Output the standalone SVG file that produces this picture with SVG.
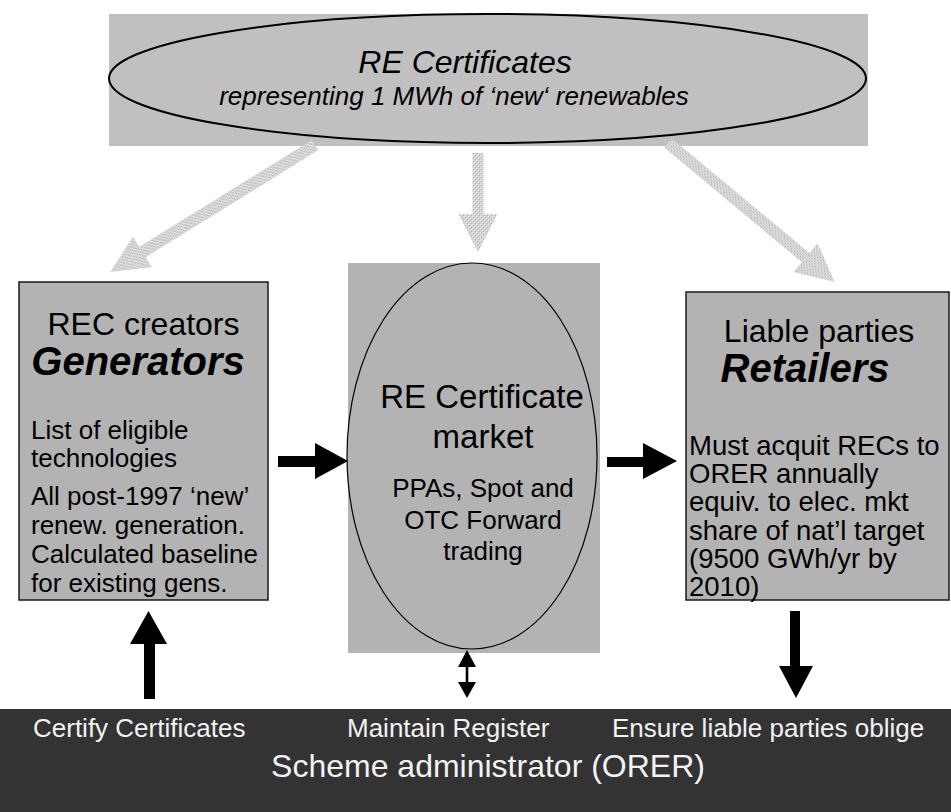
<svg xmlns="http://www.w3.org/2000/svg" width="951" height="812" viewBox="0 0 951 812">
  <defs>
    <pattern id="dots" width="4" height="4" patternUnits="userSpaceOnUse">
      <rect width="4" height="4" fill="#d6d6d6"/>
      <rect x="0" y="0" width="1" height="1" fill="#a8a8a8"/>
      <rect x="2" y="2" width="1" height="1" fill="#a8a8a8"/>
      <rect x="1" y="3" width="1" height="1" fill="#ececec"/>
      <rect x="3" y="1" width="1" height="1" fill="#ececec"/>
    </pattern>
  </defs>
  <style>
    text { font-family: "Liberation Sans", Arial, sans-serif; fill: #000; }
    .box { fill: #b3b3b3; stroke: #1a1a1a; stroke-width: 1.5; }
    .title { font-size: 32px; text-anchor: middle; }
    .strong { font-size: 40px; font-weight: bold; font-style: italic; text-anchor: middle; }
    .body { font-size: 26px; }
    .body-r { font-size: 27.5px; }
    .mid { font-size: 26px; text-anchor: middle; }
    .mid-big { font-size: 33px; text-anchor: middle; }
    .foot { font-size: 26px; fill: #f2f2f2; }
    .foot-big { font-size: 32px; fill: #f2f2f2; text-anchor: middle; }
    .gray-arrow { fill: url(#dots); }
    .solid-arrow { fill: #000; }
  </style>

  <rect width="951" height="812" fill="#fff"/>

  <!-- certificate banner -->
  <g id="certificates">
    <rect x="109" y="14" width="759" height="132" fill="#c0c0c0"/>
    <ellipse cx="487.5" cy="78.5" rx="378.5" ry="64.5" fill="#c0c0c0" stroke="#000" stroke-width="2"/>
    <text x="465" y="73" style="font-size:32px;font-style:italic" text-anchor="middle">RE Certificates</text>
    <text x="454" y="105" style="font-size:26px;font-style:italic" text-anchor="middle">representing 1 MWh of ‘new‘ renewables</text>
  </g>

  <!-- generators -->
  <g id="generators">
    <rect class="box" x="19" y="282" width="249" height="318"/>
    <text class="title" x="143.5" y="335">REC creators</text>
    <text class="strong" x="138" y="375">Generators</text>
    <text class="body" x="31" y="439">List of eligible</text>
    <text class="body" x="31" y="467">technologies</text>
    <text class="body" x="31" y="505">All post-1997 ‘new’</text>
    <text class="body" x="31" y="534">renew. generation.</text>
    <text class="body" x="31" y="563">Calculated baseline</text>
    <text class="body" x="31" y="592">for existing gens.</text>
  </g>

  <!-- certificate market -->
  <g id="market">
    <rect x="348" y="263" width="252" height="390" fill="#b3b3b3"/>
    <ellipse cx="472" cy="456" rx="125" ry="193" fill="#b3b3b3" stroke="#000" stroke-width="1.2"/>
    <text class="mid-big" x="482" y="408">RE Certificate</text>
    <text class="mid-big" x="483" y="448">market</text>
    <text class="mid" x="483" y="497">PPAs, Spot and</text>
    <text class="mid" x="483" y="529">OTC Forward</text>
    <text class="mid" x="483" y="560">trading</text>
  </g>

  <!-- retailers -->
  <g id="retailers">
    <rect class="box" x="686" y="292" width="263" height="308"/>
    <text class="title" x="819" y="342">Liable parties</text>
    <text class="strong" x="805" y="382">Retailers</text>
    <text class="body-r" x="689" y="455">Must acquit RECs to</text>
    <text class="body-r" x="689" y="483">ORER annually</text>
    <text class="body-r" x="689" y="511">equiv. to elec. mkt</text>
    <text class="body-r" x="689" y="540">share of nat’l target</text>
    <text class="body-r" x="689" y="568">(9500 GWh/yr by</text>
    <text class="body-r" x="689" y="596">2010)</text>
  </g>

  <!-- scheme administrator -->
  <g id="administrator">
    <rect x="0" y="709" width="951" height="103" fill="#333333"/>
    <text class="foot" x="33" y="737">Certify Certificates</text>
    <text class="foot" x="347" y="737">Maintain Register</text>
    <text class="foot" x="612" y="737">Ensure liable parties oblige</text>
    <text class="foot-big" x="488" y="777">Scheme administrator (ORER)</text>
  </g>

  <!-- connectors -->
  <g id="connectors">
    <!-- certificates flow out to the three parties -->
    <path class="gray-arrow" transform="translate(315 145) rotate(148.2)" d="M0,-6 L203,-6 L203,-18 L241,0 L203,18 L203,6 L0,6 Z"/>
    <path class="gray-arrow" transform="translate(478 153) rotate(90)" d="M0,-5.5 L61,-5.5 L61,-19.5 L99,0 L61,19.5 L61,5.5 L0,5.5 Z"/>
    <path class="gray-arrow" transform="translate(668 143) rotate(39.8)" d="M0,-6 L179,-6 L179,-18.8 L217,0 L179,18.8 L179,6 L0,6 Z"/>

    <!-- trade flow -->
    <path class="solid-arrow" d="M278,456 L315,456 L315,443 L348,461 L315,479 L315,467 L278,467 Z"/>
    <path class="solid-arrow" d="M607,457 L643,457 L643,443 L677,461 L643,479 L643,467 L607,467 Z"/>

    <!-- administration links -->
    <path class="solid-arrow" d="M144,699 L144,644 L130,644 L148.5,611 L167,644 L155,644 L155,699 Z"/>
    <path class="solid-arrow" d="M790,611 L800,611 L800,666 L813,666 L796,698 L779,666 L790,666 Z"/>
    <path class="solid-arrow" d="M467,650 L476,667 L468.3,667 L468.3,682 L476,682 L467,698 L458,682 L465.7,682 L465.7,667 L458,667 Z"/>
  </g>
</svg>
